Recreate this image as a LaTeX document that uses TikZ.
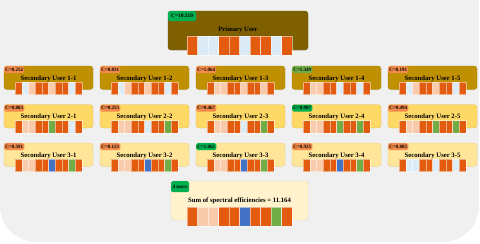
\documentclass[tikz,border=0pt]{standalone}
\usepackage{fontspec}
\setmainfont{Liberation Serif}
\definecolor{prim}{HTML}{7F6000}
\definecolor{rowa}{HTML}{BF9000}
\definecolor{rowb}{HTML}{FFD966}
\definecolor{rowc}{HTML}{FFE699}
\definecolor{sumc}{HTML}{FFF2CC}
\definecolor{co}{HTML}{E35B0E}
\definecolor{cp}{HTML}{F8CBAD}
\definecolor{cl}{HTML}{DDEBF7}
\definecolor{cb}{HTML}{4472C4}
\definecolor{cg}{HTML}{70AD47}
\definecolor{bggray}{HTML}{F0F0F0}
\definecolor{bor}{HTML}{F28A4C}
\definecolor{bgr}{HTML}{00B050}
\definecolor{blg}{HTML}{70AD47}
\tikzset{
  ubox/.style={draw=#1!88!black, fill=#1, line width=0.4pt, rounded corners=3pt, inner sep=0pt, outer sep=0pt, anchor=north west},
  utext/.style={font=\fontsize{6.7}{7}\selectfont\bfseries, text=black, inner sep=0pt},
  badge/.style={fill=#1, rounded corners=1.5pt, anchor=north west, inner xsep=1.2pt, inner ysep=0.8pt, minimum height=6.8pt, font=\fontsize{5}{5}\selectfont\bfseries, text=black},
  cellsep/.style={draw=white, draw opacity=0.5, line width=0.3pt}
}
\newcommand\cellrow[5]{%
  \foreach \c [count=\i from 0] in {#5} {
    \path[fill=\c, cellsep] ({#1+\i*#3},{#2}) rectangle ++(#3,#4);
  }}
\newcommand\suser[8]{%
  \node[ubox=#4, minimum width=89pt, minimum height=23.5pt] (#1) at (#2,#3) {};
  \node[utext] (#1t) at ({#2+44.5},{#3+12.5}) {#5};
  \cellrow{#2+11}{#3+16}{6.7}{12.5}{#8}
  \node[badge=#7] (#1b) at (#1.north west) {#6};
}
\begin{document}
\begin{tikzpicture}[x=1pt,y=-1pt]
\useasboundingbox (0,0) rectangle (480,244);
\clip (0,0) rectangle (480,244);
\fill[bggray, rounded corners=36pt] (0,-60) rectangle (479,242);
% primary
\node[ubox=prim, minimum width=140pt, minimum height=39pt] (pu) at (168,11) {};
\node[utext] (put) at (238,30) {Primary User};
\cellrow{187}{36}{10.5}{19}{co,cl,cl,co,co,cl,co,co,cl,co}
\node[badge=bgr, inner xsep=3pt, minimum height=10pt, font=\fontsize{5.4}{5.4}\selectfont\bfseries] (pub) at (pu.north west) {C=10.319};
% row 1
\suser{s11}{4}{66}{rowa}{Secondary User 1-1}{C=0.252}{bor}{co,cl,cp,co,co,cp,co,co,cl,co}
\suser{s12}{100}{66}{rowa}{Secondary User 1-2}{C=0.831}{bor}{co,cl,cp,co,co,cp,co,co,cl,co}
\suser{s13}{196}{66}{rowa}{Secondary User 1-3}{C=1.064}{bor}{co,cp,cp,co,co,cp,co,co,cp,co}
\suser{s14}{292}{66}{rowa}{Secondary User 1-4}{C=1.349}{blg}{co,cp,cp,co,co,cl,co,co,cl,co}
\suser{s15}{388}{66}{rowa}{Secondary User 1-5}{C=0.191}{bor}{co,cl,cp,co,co,cp,co,co,cl,co}
% row 2
\suser{s21}{4}{104.5}{rowb}{Secondary User 2-1}{C=0.883}{bor}{co,cp,cp,co,co,cg,co,co,cl,co}
\suser{s22}{100}{104.5}{rowb}{Secondary User 2-2}{C=0.255}{bor}{co,cp,cp,co,co,cl,co,co,cg,co}
\suser{s23}{196}{104.5}{rowb}{Secondary User 2-3}{C=0.467}{bor}{co,cp,cp,co,co,cl,co,co,cg,co}
\suser{s24}{292}{104.5}{rowb}{Secondary User 2-4}{C=0.907}{bgr}{co,cp,cp,co,co,cg,co,co,cg,co}
\suser{s25}{388}{104.5}{rowb}{Secondary User 2-5}{C=0.494}{bor}{co,cp,cp,co,co,cg,co,co,cg,co}
% row 3
\suser{s31}{4}{143}{rowc}{Secondary User 3-1}{C=0.591}{bor}{co,cp,cp,co,co,cb,co,co,cg,co}
\suser{s32}{100}{143}{rowc}{Secondary User 3-2}{C=0.123}{bor}{co,cp,cp,co,co,cb,co,co,cg,co}
\suser{s33}{196}{143}{rowc}{Secondary User 3-3}{C=1.061}{bgr}{co,cp,cp,co,co,cb,co,co,cg,co}
\suser{s34}{292}{143}{rowc}{Secondary User 3-4}{C=0.925}{bor}{co,cp,cp,co,co,cb,co,co,cg,co}
\suser{s35}{388}{143}{rowc}{Secondary User 3-5}{C=0.885}{bor}{co,cl,cl,co,co,cl,co,co,cl,co}
% sum
\node[ubox=sumc, minimum width=137pt, minimum height=39pt] (sum) at (171,181) {};
\node[utext] (sumt) at (239.5,201) {Sum of spectral efficiencies = 11.164};
\cellrow{187}{207}{10.5}{19}{co,cp,cp,co,co,cb,co,co,cg,co}
\node[badge=bgr, inner xsep=1.5pt, minimum height=11pt] (sumb) at (sum.north west) {4 users};
\end{tikzpicture}
\end{document}
